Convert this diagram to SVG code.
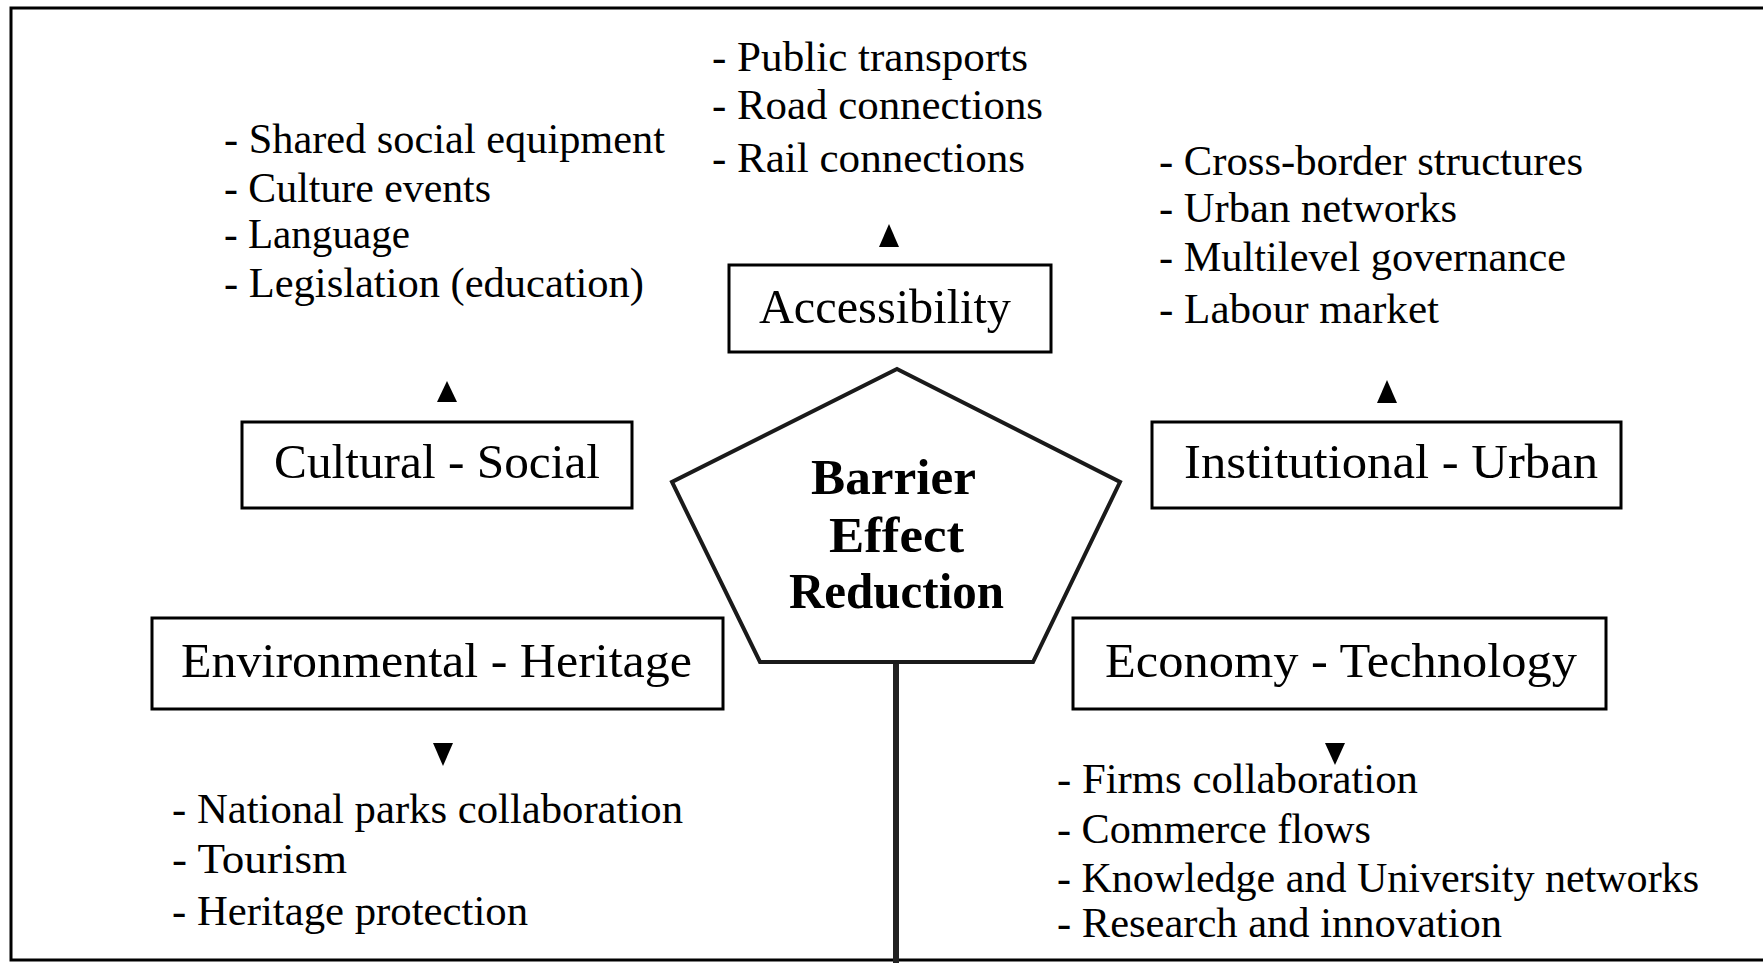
<svg xmlns="http://www.w3.org/2000/svg" width="1763" height="963" viewBox="0 0 1763 963">
<style>
text{font-family:"Liberation Serif","Times New Roman",serif;fill:#000}
.lst{font-size:42px}
.lbl{font-size:48px}
.ctr{font-size:50px;font-weight:bold}
.box{fill:#fff;stroke:#000;stroke-width:3}
.pent{fill:#fff;stroke:#1a1a1a;stroke-width:4;stroke-linejoin:miter}
.frame{fill:none;stroke:#000;stroke-width:3}
.head{fill:#000}
.stem{stroke:#222;stroke-width:6;fill:none}
</style>
<g id="frame">
<path class="frame" d="M1763,8 H11 V960 H1763"/>
</g>
<g id="connectors">
<line class="stem" x1="896" y1="662" x2="896" y2="963"/>
<polygon class="head" points="889,224 879,247 899,247"/>
<polygon class="head" points="447,381 437,402 457,402"/>
<polygon class="head" points="1387,380 1377,403 1397,403"/>
<polygon class="head" points="443,766 433,743 453,743"/>
<polygon class="head" points="1335,765 1325,743 1345,743"/>
</g>
<g id="center">
<polygon class="pent" points="897,369 1120,482 1033,662 760,662 672,482"/>
<text class="ctr" x="811" y="494" textLength="165" lengthAdjust="spacingAndGlyphs">Barrier</text>
<text class="ctr" x="829" y="552" textLength="135" lengthAdjust="spacingAndGlyphs">Effect</text>
<text class="ctr" x="789" y="608" textLength="215" lengthAdjust="spacingAndGlyphs">Reduction</text>
</g>
<g id="accessibility">
<rect class="box" x="729" y="265" width="322" height="87"/>
<text class="lbl" x="759" y="323" textLength="252" lengthAdjust="spacingAndGlyphs">Accessibility</text>
</g>
<g id="accessibility-list">
<text class="lst" x="712" y="71" textLength="316" lengthAdjust="spacingAndGlyphs">- Public transports</text>
<text class="lst" x="712" y="119" textLength="331" lengthAdjust="spacingAndGlyphs">- Road connections</text>
<text class="lst" x="712" y="172" textLength="313" lengthAdjust="spacingAndGlyphs">- Rail connections</text>
</g>
<g id="cultural-social">
<rect class="box" x="242" y="422" width="390" height="86"/>
<text class="lbl" x="274" y="478" textLength="326" lengthAdjust="spacingAndGlyphs">Cultural - Social</text>
</g>
<g id="cultural-list">
<text class="lst" x="224" y="153" textLength="441" lengthAdjust="spacingAndGlyphs">- Shared social equipment</text>
<text class="lst" x="224" y="202" textLength="267" lengthAdjust="spacingAndGlyphs">- Culture events</text>
<text class="lst" x="224" y="248" textLength="186" lengthAdjust="spacingAndGlyphs">- Language</text>
<text class="lst" x="224" y="297" textLength="420" lengthAdjust="spacingAndGlyphs">- Legislation (education)</text>
</g>
<g id="institutional-urban">
<rect class="box" x="1152" y="422" width="469" height="86"/>
<text class="lbl" x="1184" y="478" textLength="414" lengthAdjust="spacingAndGlyphs">Institutional - Urban</text>
</g>
<g id="institutional-list">
<text class="lst" x="1159" y="175" textLength="424" lengthAdjust="spacingAndGlyphs">- Cross-border structures</text>
<text class="lst" x="1159" y="222" textLength="298" lengthAdjust="spacingAndGlyphs">- Urban networks</text>
<text class="lst" x="1159" y="271" textLength="407" lengthAdjust="spacingAndGlyphs">- Multilevel governance</text>
<text class="lst" x="1159" y="323" textLength="280" lengthAdjust="spacingAndGlyphs">- Labour market</text>
</g>
<g id="environmental-heritage">
<rect class="box" x="152" y="618" width="571" height="91"/>
<text class="lbl" x="181" y="677" textLength="511" lengthAdjust="spacingAndGlyphs">Environmental - Heritage</text>
</g>
<g id="environmental-list">
<text class="lst" x="172" y="823" textLength="511" lengthAdjust="spacingAndGlyphs">- National parks collaboration</text>
<text class="lst" x="172" y="873" textLength="175" lengthAdjust="spacingAndGlyphs">- Tourism</text>
<text class="lst" x="172" y="925" textLength="356" lengthAdjust="spacingAndGlyphs">- Heritage protection</text>
</g>
<g id="economy-technology">
<rect class="box" x="1073" y="618" width="533" height="91"/>
<text class="lbl" x="1105" y="677" textLength="472" lengthAdjust="spacingAndGlyphs">Economy - Technology</text>
</g>
<g id="economy-list">
<text class="lst" x="1057" y="793" textLength="361" lengthAdjust="spacingAndGlyphs">- Firms collaboration</text>
<text class="lst" x="1057" y="843" textLength="314" lengthAdjust="spacingAndGlyphs">- Commerce flows</text>
<text class="lst" x="1057" y="892" textLength="642" lengthAdjust="spacingAndGlyphs">- Knowledge and University networks</text>
<text class="lst" x="1057" y="937" textLength="445" lengthAdjust="spacingAndGlyphs">- Research and innovation</text>
</g>
</svg>
